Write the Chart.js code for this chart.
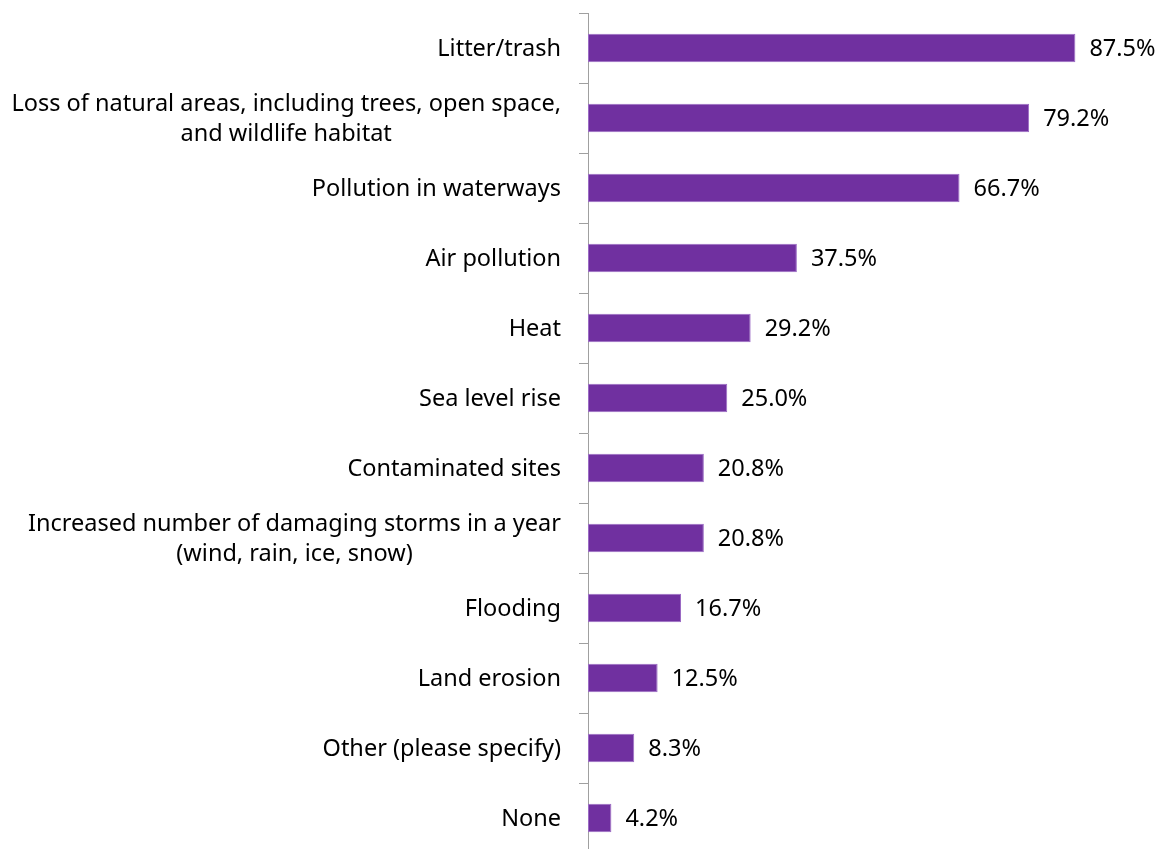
<!DOCTYPE html>
<html lang="en">
<head>
    <meta charset="UTF-8">
    <title>Environmental concerns</title>
    <script src="https://cdn.jsdelivr.net/npm/chart.js"></script>
    <style>
        html, body { margin: 0; padding: 0; background: #fff; overflow: hidden; }
        #wrap { width: 1165px; height: 853px; }
    </style>
</head>
<body>
    <div id="wrap"><canvas id="myChart"></canvas></div>
    <script>
        const categories = [
            'Litter/trash',
            ['Loss of natural areas, including trees, open space,', 'and wildlife habitat'],
            'Pollution in waterways',
            'Air pollution',
            'Heat',
            'Sea level rise',
            'Contaminated sites',
            ['Increased number of damaging storms in a year', '(wind, rain, ice, snow)'],
            'Flooding',
            'Land erosion',
            'Other (please specify)',
            'None'
        ];
        const percents = [87.5, 79.2, 66.7, 37.5, 29.2, 25.0, 20.8, 20.8, 16.7, 12.5, 8.3, 4.2];

        const FONT = "'Noto Sans', sans-serif";

        // category labels: right edge fixed, wrapped lines centred on each other
        const categoryLabels = {
            id: 'categoryLabels',
            afterDraw(chart) {
                const ctx = chart.ctx;
                const y = chart.scales.y;
                const right = y.right - 27;
                const lineH = 30;
                ctx.save();
                ctx.font = '23.5px ' + FONT;
                ctx.fillStyle = '#000';
                ctx.textAlign = 'center';
                ctx.textBaseline = 'middle';
                categories.forEach((lab, i) => {
                    const lines = Array.isArray(lab) ? lab : [lab];
                    const w = Math.max(...lines.map(l => ctx.measureText(l).width));
                    const cx = right - w / 2;
                    const cy = y.getPixelForTick(i) + 1;
                    const top = cy - (lines.length - 1) * lineH / 2;
                    lines.forEach((l, k) => ctx.fillText(l, cx, top + k * lineH));
                });
                ctx.restore();
            }
        };

        // value labels to the right of each bar
        const valueLabels = {
            id: 'valueLabels',
            afterDatasetsDraw(chart) {
                const ctx = chart.ctx;
                const meta = chart.getDatasetMeta(0);
                ctx.save();
                ctx.font = '23.5px ' + FONT;
                ctx.fillStyle = '#000';
                ctx.textAlign = 'left';
                ctx.textBaseline = 'middle';
                meta.data.forEach((bar, i) => {
                    ctx.fillText(percents[i].toFixed(1) + '%', bar.x + 14, bar.y + 1);
                });
                ctx.restore();
            }
        };

        const ctx = document.getElementById('myChart').getContext('2d');
        const myChart = new Chart(ctx, {
            type: 'bar',
            data: {
                labels: categories,
                datasets: [{
                    data: percents,
                    backgroundColor: '#7030A0',
                    borderColor: '#9B6BC4',
                    borderWidth: 1,
                    borderSkipped: false,
                    categoryPercentage: 1.0,
                    barPercentage: 0.41
                }]
            },
            options: {
                indexAxis: 'y',
                responsive: true,
                maintainAspectRatio: false,
                animation: false,
                layout: { padding: { top: 13, right: 20, bottom: 0, left: 0 } },
                plugins: {
                    legend: { display: false },
                    tooltip: { enabled: false }
                },
                scales: {
                    x: {
                        display: false,
                        min: 0,
                        max: 100
                    },
                    y: {
                        afterFit(scale) {
                            scale.width = 588;
                            scale.paddingTop = 0;
                            scale.paddingBottom = 0;
                        },
                        grid: {
                            offset: true,
                            drawOnChartArea: false,
                            tickLength: 9,
                            color: '#A0A0A0'
                        },
                        border: { display: true, color: '#A0A0A0', width: 1 },
                        ticks: {
                            display: false,
                            autoSkip: false
                        }
                    }
                }
            },
            plugins: [categoryLabels, valueLabels]
        });
    </script>
</body>
</html>
